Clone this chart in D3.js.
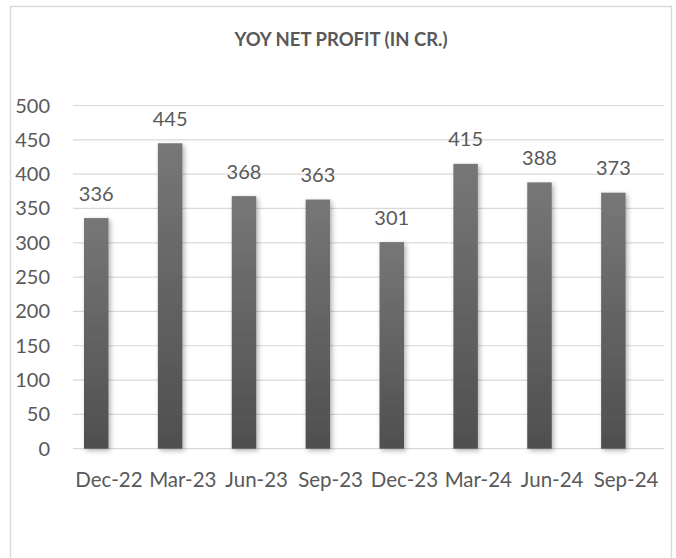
<!DOCTYPE html>
<html lang="en">
<head>
<meta charset="utf-8">
<title>YOY Net Profit</title>
<script src="https://cdn.jsdelivr.net/npm/d3@7/dist/d3.min.js"></script>
<style>
  body { margin: 0; background: #fff; }
  text { font-family: Lato, "Noto Sans", sans-serif; fill: #595959; }
</style>
</head>
<body>
<div id="chart"></div>
<script>
// data
var quarters = ["Dec-22", "Mar-23", "Jun-23", "Sep-23", "Dec-23", "Mar-24", "Jun-24", "Sep-24"];
var profit = [336, 445, 368, 363, 301, 415, 388, 373];
var yTicks = [0, 50, 100, 150, 200, 250, 300, 350, 400, 450, 500];

var w = 676, h = 558;
var svg = d3.select("#chart").append("svg")
    .attr("width", w)
    .attr("height", h);

var defs = svg.append("defs");
var grad = defs.append("linearGradient")
    .attr("id", "barGrad")
    .attr("x1", 0).attr("y1", 0).attr("x2", 0).attr("y2", 1);
grad.append("stop").attr("offset", "0%").attr("stop-color", "#777777");
grad.append("stop").attr("offset", "100%").attr("stop-color", "#4f4f4f");

var shadow = defs.append("filter")
    .attr("id", "shadow")
    .attr("x", "-50%").attr("y", "-10%")
    .attr("width", "200%").attr("height", "130%");
shadow.append("feDropShadow")
    .attr("dx", 2).attr("dy", 2)
    .attr("stdDeviation", 2.5)
    .attr("flood-color", "#000")
    .attr("flood-opacity", 0.3);

// chart border
svg.append("rect")
    .attr("x", 10.5).attr("y", 6.5)
    .attr("width", 661).attr("height", 600)
    .attr("fill", "none")
    .attr("stroke", "#d9d9d9")
    .attr("stroke-width", 1.5);

// title
svg.append("text")
    .attr("x", 341)
    .attr("y", 46)
    .attr("text-anchor", "middle")
    .attr("font-size", 18.5)
    .attr("font-weight", "bold")
    .text("YOY NET PROFIT (IN CR.)");

// scales
var x = d3.scaleBand()
    .domain(quarters)
    .range([73, 664]);
var y = d3.scaleLinear()
    .domain([0, 500])
    .range([448.7, 105.5]);

// gridlines
svg.append("g")
    .selectAll("line")
    .data(yTicks)
    .enter()
    .append("line")
    .attr("x1", 73).attr("x2", 664)
    .attr("y1", function(d){ return y(d); })
    .attr("y2", function(d){ return y(d); })
    .attr("stroke", "#d9d9d9")
    .attr("stroke-width", 1.2);

// y labels
svg.append("g")
    .selectAll("text")
    .data(yTicks)
    .enter()
    .append("text")
    .attr("x", 50)
    .attr("y", function(d){ return y(d) + 7; })
    .attr("text-anchor", "end")
    .attr("font-size", 20)
    .text(function(d){ return d; });

// bars
var barW = 24.5, barOff = 11;
svg.append("g")
    .selectAll("rect")
    .data(profit)
    .enter()
    .append("rect")
    .attr("x", function(d, i){ return x(quarters[i]) + barOff; })
    .attr("y", function(d){ return y(d); })
    .attr("width", barW)
    .attr("height", function(d){ return y(0) - y(d); })
    .attr("fill", "url(#barGrad)")
    .attr("filter", "url(#shadow)");

// value labels
svg.append("g")
    .selectAll("text")
    .data(profit)
    .enter()
    .append("text")
    .attr("x", function(d, i){ return x(quarters[i]) + barOff + barW / 2; })
    .attr("y", function(d){ return y(d) - 17.5; })
    .attr("text-anchor", "middle")
    .attr("font-size", 20)
    .text(function(d){ return d; });

// category labels
svg.append("g")
    .selectAll("text")
    .data(quarters)
    .enter()
    .append("text")
    .attr("x", function(d){ return x(d) + x.bandwidth() / 2 - 1; })
    .attr("y", 486.5)
    .attr("text-anchor", "middle")
    .attr("font-size", 20.5)
    .text(function(d){ return d; });
</script>
</body>
</html>
